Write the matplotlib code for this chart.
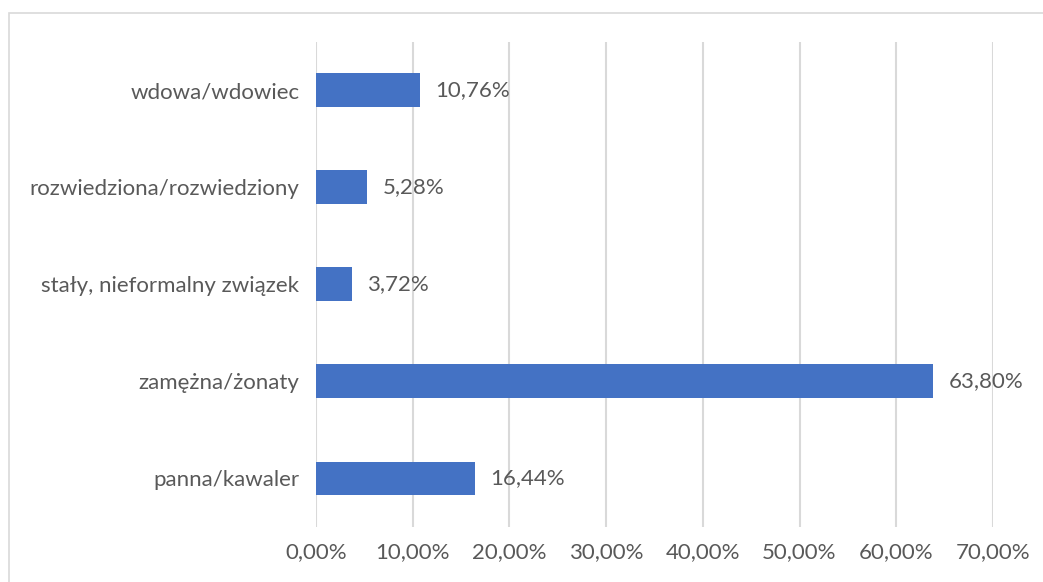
import numpy as np
import matplotlib.pyplot as plt
from matplotlib.patches import Rectangle

kategorie = ['panna/kawaler', 'zamężna/żonaty', 'stały, nieformalny związek',
             'rozwiedziona/rozwiedziony', 'wdowa/wdowiec']
procenty = [16.44, 63.80, 3.72, 5.28, 10.76]
ticki = [0, 10, 20, 30, 40, 50, 60, 70]

plt.rcParams['font.family'] = ['Lato', 'DejaVu Sans']
kolor_tekstu = '#595959'
rozmiar = 16

fig = plt.figure(figsize=(10.43, 5.82), dpi=100)
ax = fig.add_axes([0.303, 0.0945, 0.649, 0.8335])

# ramka wykresu
fig.patches.append(Rectangle((9 / 1043, -0.1), 1.2, 1 - 13 / 582 + 0.1,
                             transform=fig.transFigure, fill=False,
                             edgecolor='#d9d9d9', linewidth=1.2))

y = np.arange(len(kategorie))
ax.barh(y, procenty, height=0.35, color='#4472C4', zorder=3)

for yi, v in zip(y, procenty):
    ax.text(v + 1.6, yi, f'{v:.2f}%'.replace('.', ','), va='center', ha='left',
            fontsize=rozmiar, color=kolor_tekstu)

ax.set_xlim(0, 70)
ax.set_ylim(-0.5, len(kategorie) - 0.5)
ax.set_xticks(ticki)
ax.set_xticklabels([f'{t:.2f}%'.replace('.', ',') for t in ticki],
                   fontsize=rozmiar, color=kolor_tekstu)
ax.set_yticks(y)
ax.set_yticklabels(kategorie, fontsize=rozmiar, color=kolor_tekstu)
ax.tick_params(axis='y', length=0, pad=12)
ax.tick_params(axis='x', length=0, pad=11)
ax.grid(axis='x', color='#d9d9d9', linewidth=1.5, zorder=0)
for s in ax.spines.values():
    s.set_visible(False)

plt.savefig('out.png', dpi=100)
